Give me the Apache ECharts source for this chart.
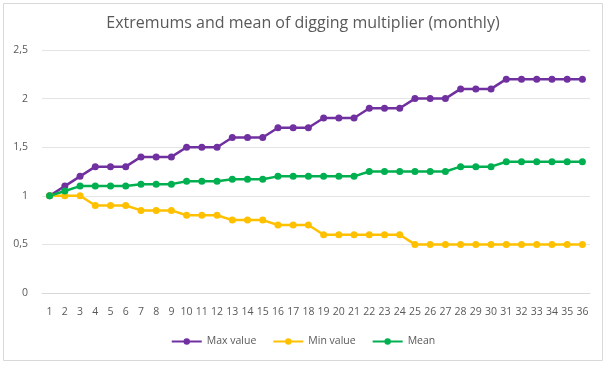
<!DOCTYPE html>
<html><head><meta charset="utf-8">
<script src="https://cdn.jsdelivr.net/npm/echarts@6/dist/echarts.min.js"></script>
<style>html,body{margin:0;padding:0;background:#fff}#c{width:606px;height:369px}</style>
</head><body><div id="c"></div>
<script>
const categories = Array.from({length:36},(_,i)=>String(i+1));
const maxValues = [1,1.1,1.2,1.3,1.3,1.3,1.4,1.4,1.4,1.5,1.5,1.5,1.6,1.6,1.6,1.7,1.7,1.7,1.8,1.8,1.8,1.9,1.9,1.9,2,2,2,2.1,2.1,2.1,2.2,2.2,2.2,2.2,2.2,2.2];
const minValues = [1,1,1,0.9,0.9,0.9,0.85,0.85,0.85,0.8,0.8,0.8,0.75,0.75,0.75,0.7,0.7,0.7,0.6,0.6,0.6,0.6,0.6,0.6,0.5,0.5,0.5,0.5,0.5,0.5,0.5,0.5,0.5,0.5,0.5,0.5];
const meanValues = [1,1.05,1.1,1.1,1.1,1.1,1.12,1.12,1.12,1.15,1.15,1.15,1.17,1.17,1.17,1.2,1.2,1.2,1.2,1.2,1.2,1.25,1.25,1.25,1.25,1.25,1.25,1.3,1.3,1.3,1.35,1.35,1.35,1.35,1.35,1.35];
const seriesNames = ['Max value','Min value','Mean'];
const colors = ['#7030A0','#FFC000','#00B050'];

const chart = echarts.init(document.getElementById('c'));
const mk = (name, data, color) => ({
  name, type:'line', data, color,
  symbol:'circle', symbolSize:7,
  lineStyle:{width:2.5,color}, itemStyle:{color},
  animation:false
});
chart.setOption({
  animation:false,
  graphic:[{type:'rect',shape:{x:3.5,y:3.5,width:599,height:357},style:{fill:'none',stroke:'#d9d9d9',lineWidth:1},silent:true}],
  title:{text:'Extremums and mean of digging multiplier (monthly)',left:'center',top:10,
    textStyle:{fontFamily:'Open Sans',fontWeight:'normal',fontSize:16,color:'#595959'}},
  legend:{bottom:17,left:'center',itemWidth:30,itemHeight:8,itemGap:16,
    data:seriesNames,
    textStyle:{fontFamily:'Open Sans',fontSize:10.5,color:'#595959'}},
  grid:{left:42,right:16,top:50,bottom:76,containLabel:false},
  xAxis:{type:'category',data:categories,boundaryGap:true,
    axisLine:{show:true,lineStyle:{color:'#d9d9d9'}},axisTick:{show:false},
    axisLabel:{interval:0,fontFamily:'Open Sans',fontSize:10.5,color:'#595959',margin:14}},
  yAxis:{type:'value',min:0,max:2.5,interval:0.5,
    axisLine:{show:false},axisTick:{show:false},
    splitLine:{lineStyle:{color:'#e4e4e4'}},
    axisLabel:{fontFamily:'Open Sans',fontSize:10.5,color:'#595959',margin:14,
      formatter:v=>String(v).replace('.',',')}},
  series:[mk(seriesNames[0],maxValues,colors[0]),mk(seriesNames[1],minValues,colors[1]),mk(seriesNames[2],meanValues,colors[2])]
});
</script></body></html>
